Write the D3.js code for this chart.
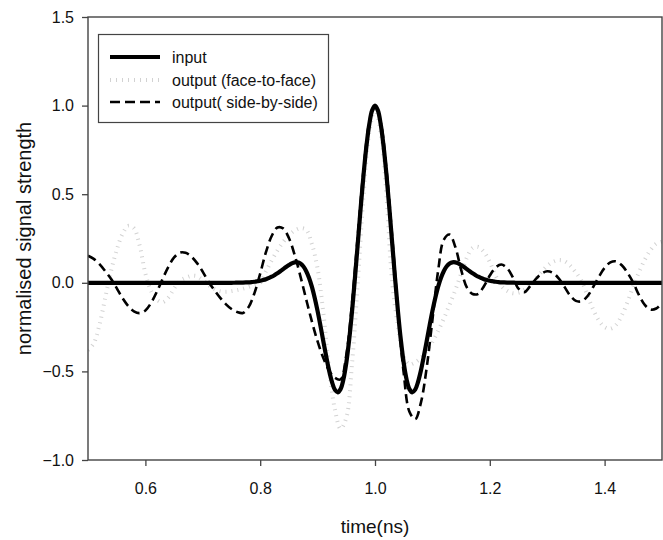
<!DOCTYPE html>
<html>
<head>
<meta charset="utf-8">
<script src="https://cdn.jsdelivr.net/npm/d3@7"></script>
<style>
  html, body { margin: 0; padding: 0; background: #fff; }
  svg { display: block; font-family: "Liberation Sans", Arial, Helvetica, sans-serif; }
</style>
</head>
<body>
<svg id="chart" width="663" height="540"></svg>
<script>
// Sample times (ns) for the two output traces: 0.50 .. 1.50 in 0.01 ns steps
const outStart = 0.5, outStep = 0.01;
// Sample times for the input pulse: 0.75 .. 1.25 in 0.005 ns steps (zero outside)
const inStart = 0.75, inStep = 0.005;

// Input pulse (centred on 1.0 ns)
const inputValues = [
  0, 0.0003, 0.0006, 0.001, 0.0013, 0.002, 0.0029, 0.0043, 0.0059, 0.0085,
  0.0114, 0.0155, 0.0204, 0.027, 0.0343, 0.0435, 0.0536, 0.065, 0.0771, 0.0892,
  0.100, 0.1096, 0.1153, 0.1156, 0.109, 0.0932, 0.0668, 0.0285, -0.022, -0.086,
  -0.160, -0.243, -0.330, -0.416, -0.495, -0.559, -0.603, -0.618, -0.600, -0.545,
  -0.452, -0.322, -0.161, 0.024, 0.222, 0.421, 0.608, 0.769, 0.894, 0.973,
  1.000,
  0.973, 0.894, 0.769, 0.608, 0.421, 0.222, 0.024, -0.161, -0.322, -0.452,
  -0.545, -0.600, -0.618, -0.603, -0.559, -0.495, -0.416, -0.330, -0.243, -0.160,
  -0.086, -0.022, 0.0285, 0.0668, 0.0932, 0.109, 0.1156, 0.1153, 0.1096, 0.100,
  0.0892, 0.0771, 0.065, 0.0536, 0.0435, 0.0343, 0.027, 0.0204, 0.0155, 0.0114,
  0.0085, 0.0059, 0.0043, 0.0029, 0.002, 0.0013, 0.001, 0.0006, 0.0003, 0
];

// Output, face-to-face arrangement
const faceValues = [
  -0.380, -0.342, -0.237, -0.085, 0.065, 0.185, 0.275, 0.321, 0.308, 0.210,
  0.052, -0.047, -0.096, -0.109, -0.084, -0.032, 0.010, 0.028, 0.039, 0.037,
  0.015, -0.013, -0.035, -0.048, -0.050, -0.047, -0.041, -0.033, -0.023, -0.012,
  0.000, 0.064, 0.126, 0.182, 0.230, 0.268, 0.295, 0.308, 0.299, 0.219,
  0.080, -0.170, -0.482, -0.713, -0.823, -0.762, -0.456, 0.000, 0.490, 0.849,
  0.980, 0.849, 0.490, 0.000, -0.245, -0.415, -0.460, -0.449, -0.424, -0.385,
  -0.334, -0.272, -0.201, -0.123, -0.041, 0.051, 0.141, 0.196, 0.202, 0.173,
  0.117, 0.041, -0.017, -0.045, -0.059, -0.056, -0.040, -0.015, 0.021, 0.061,
  0.095, 0.118, 0.128, 0.122, 0.097, 0.058, 0.010, -0.070, -0.150, -0.212,
  -0.250, -0.259, -0.237, -0.184, -0.108, -0.019, 0.060, 0.130, 0.185, 0.221,
  0.233
];

// Output, side-by-side arrangement
const sideValues = [
  0.153, 0.135, 0.105, 0.066, 0.023, -0.030, -0.086, -0.131, -0.161, -0.171,
  -0.156, -0.113, -0.050, 0.022, 0.090, 0.143, 0.170, 0.169, 0.148, 0.111,
  0.062, 0.006, -0.041, -0.084, -0.120, -0.148, -0.165, -0.170, -0.136, -0.058,
  0.052, 0.173, 0.264, 0.312, 0.307, 0.253, 0.158, 0.038, -0.092, -0.218,
  -0.331, -0.425, -0.495, -0.536, -0.545, -0.408, -0.114, 0.266, 0.636, 0.902,
  1.000, 0.904, 0.637, 0.257, -0.154, -0.508, -0.728, -0.770, -0.676, -0.480,
  -0.210, 0.068, 0.244, 0.272, 0.202, 0.074, -0.026, -0.063, -0.062, -0.018,
  0.041, 0.086, 0.103, 0.083, 0.032, -0.033, -0.053, -0.020, 0.021, 0.051,
  0.065, 0.056, 0.025, -0.022, -0.072, -0.102, -0.104, -0.076, -0.024, 0.034,
  0.084, 0.115, 0.121, 0.099, 0.056, 0.000, -0.070, -0.125, -0.151, -0.145,
  -0.115
];

const xTicks = [0.6, 0.8, 1.0, 1.2, 1.4];
const yTicks = [-1.0, -0.5, 0.0, 0.5, 1.0, 1.5];
const legendLabels = ["input", "output (face-to-face)", "output( side-by-side)"];

// ---- build point lists -------------------------------------------------
const toPoints = (vals, t0, dt) => vals.map((v, i) => [+(t0 + i * dt).toFixed(4), v]);
const inputPts = [[0.5, 0], ...toPoints(inputValues, inStart, inStep), [1.5, 0]];
const facePts = toPoints(faceValues, outStart, outStep);
const sidePts = toPoints(sideValues, outStart, outStep);

// ---- layout ------------------------------------------------------------
const svg = d3.select("#chart");
const plot = { left: 88, right: 662, top: 17, bottom: 460 };

const x = d3.scaleLinear().domain([0.5, 1.5]).range([plot.left, plot.right]);
const y = d3.scaleLinear().domain([-1.0, 1.5]).range([plot.bottom, plot.top]);

const axisColor = "#444";
const fmt = d3.format(".1f");

// clip so curves stay within the frame
svg.append("defs").append("clipPath").attr("id", "plotClip")
  .append("rect")
  .attr("x", plot.left).attr("y", plot.top)
  .attr("width", plot.right - plot.left).attr("height", plot.bottom - plot.top);

const line = d3.line()
  .x(d => x(d[0]))
  .y(d => y(d[1]))
  .curve(d3.curveCatmullRom.alpha(0.5));

const curves = svg.append("g").attr("clip-path", "url(#plotClip)");

// face-to-face output: light grey dotted
curves.append("path")
  .attr("d", line(facePts))
  .attr("fill", "none")
  .attr("stroke", "#d2d2d2")
  .attr("stroke-width", 4)
  .attr("stroke-dasharray", "1,5");

// side-by-side output: black dashed
curves.append("path")
  .attr("d", line(sidePts))
  .attr("fill", "none")
  .attr("stroke", "#000")
  .attr("stroke-width", 2.6)
  .attr("stroke-dasharray", "9,5");

// input pulse: thick solid
curves.append("path")
  .attr("d", line(inputPts))
  .attr("fill", "none")
  .attr("stroke", "#000")
  .attr("stroke-width", 4.2)
  .attr("stroke-linejoin", "round");

// ---- axes --------------------------------------------------------------
const xAxis = svg.append("g")
  .attr("transform", `translate(0,${plot.bottom})`)
  .call(d3.axisBottom(x).tickValues(xTicks).tickFormat(fmt).tickSize(6).tickPadding(17));

const yAxis = svg.append("g")
  .attr("transform", `translate(${plot.left},0)`)
  .call(d3.axisLeft(y).tickValues(yTicks).tickFormat(fmt).tickSize(6).tickPadding(8));

[xAxis, yAxis].forEach(g => {
  g.select(".domain").remove();
  g.selectAll(".tick line").attr("stroke", axisColor).attr("stroke-width", 1.3);
  g.selectAll(".tick text")
    .attr("fill", "#111")
    .style("font-size", "16px")
    .style("font-family", "\"Liberation Sans\", Arial, sans-serif");
});

// frame
svg.append("rect")
  .attr("x", plot.left).attr("y", plot.top)
  .attr("width", plot.right - plot.left).attr("height", plot.bottom - plot.top)
  .attr("fill", "none")
  .attr("stroke", axisColor)
  .attr("stroke-width", 1.4);

// axis titles
svg.append("text")
  .attr("x", (plot.left + plot.right) / 2)
  .attr("y", 533)
  .attr("text-anchor", "middle")
  .style("font-size", "19px")
  .attr("fill", "#111")
  .text("time(ns)");

svg.append("text")
  .attr("transform", `translate(31,${(plot.top + plot.bottom) / 2}) rotate(-90)`)
  .attr("text-anchor", "middle")
  .style("font-size", "20px")
  .attr("fill", "#111")
  .text("normalised signal strength");

// ---- legend ------------------------------------------------------------
const legend = svg.append("g");
legend.append("rect")
  .attr("x", 98.5).attr("y", 34.5)
  .attr("width", 230).attr("height", 88)
  .attr("fill", "#fff")
  .attr("stroke", axisColor)
  .attr("stroke-width", 1.2);

const legendStyles = [
  { stroke: "#000", width: 4.2, dash: null },
  { stroke: "#d2d2d2", width: 4, dash: "1,5" },
  { stroke: "#000", width: 2.6, dash: "10,5" }
];
const legendRows = [57, 80, 102];

legendLabels.forEach((label, i) => {
  const s = legendStyles[i];
  legend.append("line")
    .attr("x1", 110).attr("x2", 160)
    .attr("y1", legendRows[i]).attr("y2", legendRows[i])
    .attr("stroke", s.stroke)
    .attr("stroke-width", s.width)
    .attr("stroke-dasharray", s.dash);
  legend.append("text")
    .attr("x", 172)
    .attr("y", legendRows[i] + 5.5)
    .style("font-size", "16px")
    .attr("fill", "#111")
    .text(label);
});
</script>
</body>
</html>
